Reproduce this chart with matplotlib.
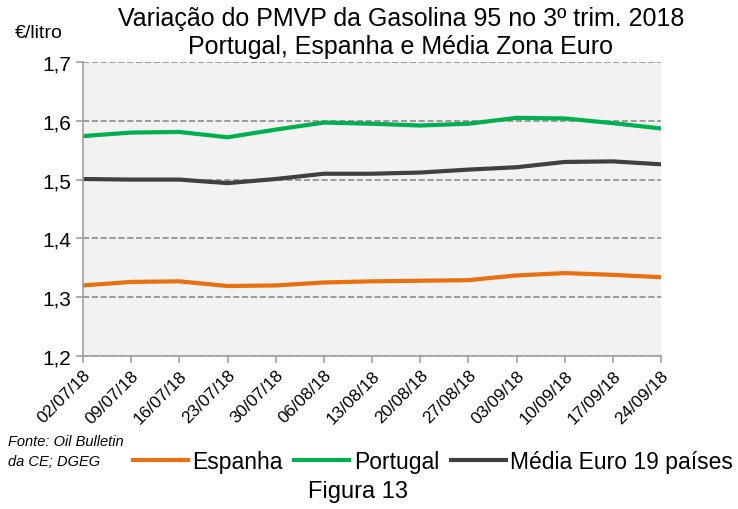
import matplotlib
matplotlib.use('Agg')
from matplotlib import pyplot as plt

datas=['02/07/18','09/07/18','16/07/18','23/07/18','30/07/18','06/08/18','13/08/18',
       '20/08/18','27/08/18','03/09/18','10/09/18','17/09/18','24/09/18']
espanha=[1.320,1.326,1.327,1.319,1.320,1.325,1.327,1.328,1.329,1.337,1.341,1.338,1.334]
portugal=[1.574,1.580,1.581,1.572,1.585,1.597,1.595,1.592,1.595,1.605,1.604,1.596,1.587]
media_euro=[1.501,1.500,1.500,1.494,1.501,1.510,1.510,1.512,1.517,1.521,1.530,1.531,1.526]
yticks=[1.2,1.3,1.4,1.5,1.6,1.7]

plt.rcParams['font.family']=['Liberation Sans','DejaVu Sans']

fig=plt.figure(figsize=(7.38,5.1),dpi=100)
ax=fig.add_axes([83/738,1-357/510,(661-83)/738,(357-63)/510])
ax.set_facecolor('#F2F2F2')

x=list(range(len(datas)))
ax.plot(x,espanha,color='#E8700E',lw=3,label='Espanha')
ax.plot(x,portugal,color='#00B050',lw=3,label='Portugal')
ax.plot(x,media_euro,color='#404040',lw=3,label='Média Euro 19 países')

ax.set_xlim(0,12)
ax.set_ylim(1.2,1.7)
ax.set_yticks(yticks)
ax.set_yticklabels([('%.1f'%v).replace('.',',') for v in yticks],fontsize=15)
ax.set_xticks(x)
ax.set_xticklabels(datas,rotation=45,ha='right',rotation_mode='anchor',fontsize=12.5)
ax.yaxis.grid(True,ls='--',color='#8C8C8C',lw=1.2)
ax.set_axisbelow(True)
for s in ['top','right']:
    ax.spines[s].set_visible(False)
for s in ['left','bottom']:
    ax.spines[s].set_color('#A0A0A0')
    ax.spines[s].set_linewidth(1.2)
ax.tick_params(axis='both',color='#A0A0A0',length=5,width=1.2)
ax.tick_params(axis='x',pad=3)

fig.text(0.543,0.963,'Variação do PMVP da Gasolina 95 no 3º trim. 2018',ha='center',va='center',fontsize=18)
fig.text(0.543,0.908,'Portugal, Espanha e Média Zona Euro',ha='center',va='center',fontsize=18)
fig.text(15/738,1-33/510,'€/litro',ha='left',va='center',fontsize=14)
fig.text(8/738,1-452/510,'Fonte: Oil Bulletin\nda CE; DGEG',ha='left',va='center',fontsize=10.5,style='italic',linespacing=1.6)
fig.text(358/738,1-492/510,'Figura 13',ha='center',va='center',fontsize=17)

fig.legend(loc='center',bbox_to_anchor=(433/738,1-463/510),ncol=3,frameon=False,fontsize=16.5,
           handlelength=2.4,handletextpad=0.2,columnspacing=0.5)

plt.savefig('out.png',dpi=100)
